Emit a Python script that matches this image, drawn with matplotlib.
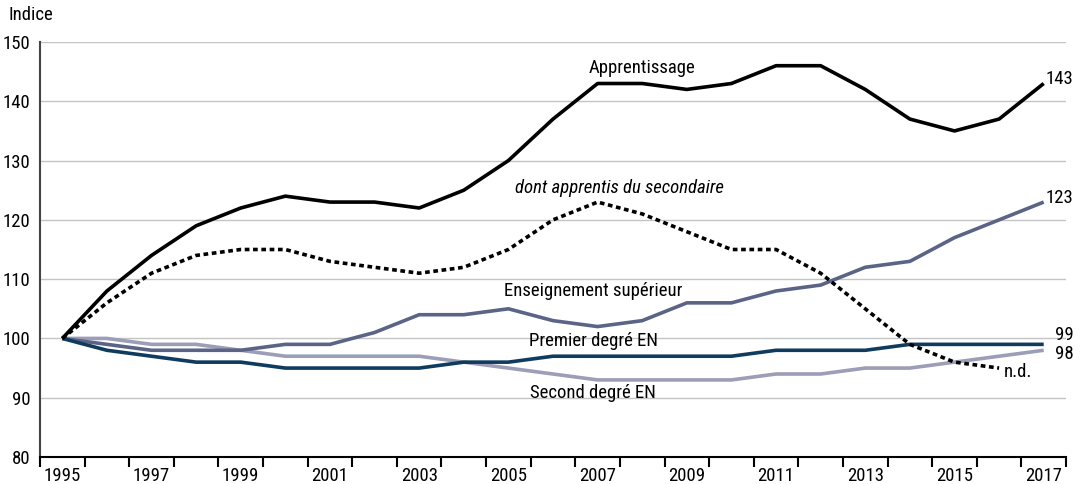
import matplotlib
matplotlib.use("Agg")
import matplotlib.pyplot as plt
from matplotlib import font_manager
import numpy as np

years = list(range(1995, 2018))
apprentissage = [100, 108, 114, 119, 122, 124, 123, 123, 122, 125, 130, 137, 143, 143, 142, 143, 146, 146, 142, 137, 135, 137, 143]
apprentis_secondaire = [100, 106, 111, 114, 115, 115, 113, 112, 111, 112, 115, 120, 123, 121, 118, 115, 115, 111, 105, 99, 96, 95]
superieur = [100, 99, 98, 98, 98, 99, 99, 101, 104, 104, 105, 103, 102, 103, 106, 106, 108, 109, 112, 113, 117, 120, 123]
premier_degre = [100, 98, 97, 96, 96, 95, 95, 95, 95, 96, 96, 97, 97, 97, 97, 97, 98, 98, 98, 99, 99, 99, 99]
second_degre = [100, 100, 99, 99, 98, 97, 97, 97, 97, 96, 95, 94, 93, 93, 93, 93, 94, 94, 95, 95, 96, 97, 98]
yticks = [80, 90, 100, 110, 120, 130, 140, 150]
xlabels = [str(y) for y in years if y % 2 == 1]

# pick a condensed font if one is installed
entries = font_manager.fontManager.ttflist
names = {f.name for f in entries}
stretch = 'normal'
family = None
for cand in ['Roboto Condensed', 'Liberation Sans Narrow', 'Open Sans Condensed', 'Noto Sans Condensed']:
    if cand in names:
        family = cand
        break
if family is None:
    cond = [f for f in entries if f.name == 'DejaVu Sans' and 'condensed' in str(f.stretch).lower()]
    if cond:
        family = 'DejaVu Sans'
        stretch = 'condensed'
    else:
        family = 'Roboto' if 'Roboto' in names else 'DejaVu Sans'
plt.rcParams['font.family'] = [family, 'DejaVu Sans']
plt.rcParams['font.stretch'] = stretch
fs = 13.5

fig = plt.figure(figsize=(10.82, 4.84), dpi=100)
ax = fig.add_axes([40/1082, 1-457/484, (1066-40)/1082, (457-42)/484])

c_sup = '#5b6486'
c_prem = '#0f3b5e'
c_sec = '#9c9db6'

ax.plot(years[:len(second_degre)], second_degre, color=c_sec, lw=2.6, solid_capstyle='butt', zorder=3)
ax.plot(years, superieur, color=c_sup, lw=2.6, solid_capstyle='butt', zorder=4)
ax.plot(years, premier_degre, color=c_prem, lw=2.6, solid_capstyle='butt', zorder=5)
ax.plot(years[:len(apprentis_secondaire)], apprentis_secondaire, color='black', lw=2.6, linestyle=(0, (1.3, 1.0)), zorder=6)
ax.plot(years, apprentissage, color='black', lw=2.6, solid_capstyle='butt', zorder=7)

ax.set_xlim(1994.5, 2017.5)
ax.set_ylim(80, 150)
ax.set_yticks(yticks)
ax.set_yticklabels([str(v) for v in yticks], fontsize=fs)
ax.yaxis.grid(True, color='#c4c4c4', lw=1.0)
ax.set_axisbelow(True)
ax.tick_params(axis='y', length=0, pad=7)

ax.set_xticks(np.arange(1994.5, 2018, 1.0))
ax.set_xticklabels([])
ax.set_xticks([y for y in years if y % 2 == 1], minor=True)
ax.set_xticklabels(xlabels, minor=True, fontsize=fs)
ax.tick_params(axis='x', which='major', length=7, width=1.5, color='black', direction='out')
ax.tick_params(axis='x', which='minor', length=0, pad=7)

for s in ['top', 'right']:
    ax.spines[s].set_visible(False)
ax.spines['left'].set_color('#444444')
ax.spines['left'].set_linewidth(1.5)
ax.spines['bottom'].set_color('black')
ax.spines['bottom'].set_linewidth(1.5)

fig.text(8/1082, 1-15/484, 'Indice', fontsize=fs, va='center', ha='left')

ax.text(2008.0, 145.6, 'Apprentissage', fontsize=fs, ha='center', va='center')
ax.text(2007.5, 125.4, 'dont apprentis du secondaire', fontsize=fs, ha='center', va='center', style='italic')
ax.text(2006.9, 108.0, 'Enseignement supérieur', fontsize=fs, ha='center', va='center')
ax.text(2006.9, 99.6, 'Premier degré EN', fontsize=fs, ha='center', va='center')
ax.text(2006.9, 90.8, 'Second degré EN', fontsize=fs, ha='center', va='center')

ax.text(2017.05, 143.7, '143', fontsize=fs, ha='left', va='center')
ax.text(2017.05, 123.7, '123', fontsize=fs, ha='left', va='center')
ax.text(2017.25, 100.5, '99', fontsize=fs, ha='left', va='center')
ax.text(2017.25, 97.3, '98', fontsize=fs, ha='left', va='center')
ax.text(2016.1, 94.4, 'n.d.', fontsize=fs, ha='left', va='center')

fig.savefig('out.png', dpi=100)
